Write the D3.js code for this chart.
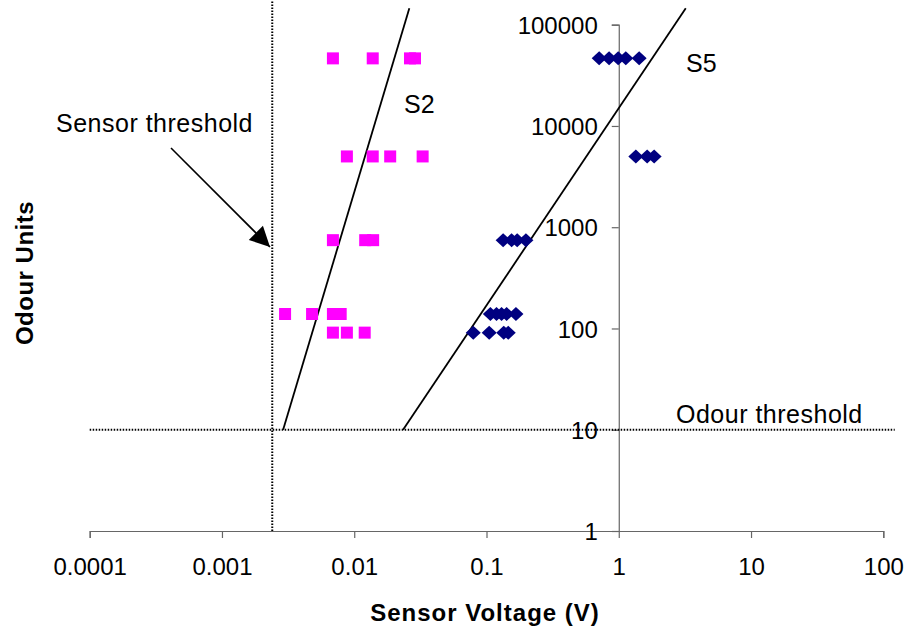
<!DOCTYPE html>
<html>
<head>
<meta charset="utf-8">
<style>
  body { margin: 0; background: #fff; }
  text { font-family: Arial, "Liberation Sans", sans-serif; fill: #000; }
</style>
<script src="https://d3js.org/d3.v7.min.js"></script>
</head>
<body>
<svg id="chart" width="909" height="629"></svg>
<script>
// sensor S2 (pink squares)
var s2Voltage = [0.0069, 0.0138, 0.0264, 0.0288,
                 0.0088, 0.0138, 0.0187, 0.0329,
                 0.0069, 0.0121, 0.0139,
                 0.0030, 0.0048, 0.0069, 0.0079,
                 0.0069, 0.0088, 0.0120];
var s2Odour = [46500, 46500, 46500, 46500,
               5000, 5000, 5000, 5000,
               745, 745, 745,
               139, 139, 139, 139,
               91, 91, 91];

// sensor S5 (navy diamonds)
var s5Voltage = [0.711, 0.845, 0.99, 1.13, 1.426,
                 1.346, 1.639, 1.851,
                 0.1336, 0.1548, 0.1706, 0.1986,
                 0.107, 0.119, 0.130, 0.142, 0.167,
                 0.0794, 0.1048, 0.135, 0.146];
var s5Odour = [46500, 46500, 46500, 46500, 46500,
               5000, 5000, 5000,
               745, 745, 745, 745,
               139, 139, 139, 139, 139,
               91, 91, 91, 91];

// fitted lines (start / end)
var s2FitVoltage = [0.0029, 0.0261];
var s2FitOdour = [10, 145500];
var s5FitVoltage = [0.0234, 3.21];
var s5FitOdour = [10, 145500];

// thresholds
var sensorThreshold = 0.0024;
var odourThreshold = 10;

var xTicks = [0.0001, 0.001, 0.01, 0.1, 1, 10, 100];
var xTickLabels = ["0.0001", "0.001", "0.01", "0.1", "1", "10", "100"];
var yTicks = [1, 10, 100, 1000, 10000, 100000];
var yTickLabels = ["1", "10", "100", "1000", "10000", "100000"];

var svg = d3.select("#chart");

var x = d3.scaleLog().domain([0.0001, 100]).range([89.7, 883.3]);
var y = d3.scaleLog().domain([1, 100000]).range([531, 24.7]);

// axes
var xAxis = svg.append("g")
  .attr("transform", "translate(0," + y(1) + ")")
  .call(d3.axisBottom(x).tickValues(xTicks)
    .tickFormat(function(d, i) { return xTickLabels[i]; })
    .tickSize(7).tickPadding(20));

var yAxis = svg.append("g")
  .attr("transform", "translate(" + x(1) + ",0)")
  .call(d3.axisLeft(y).tickValues(yTicks)
    .tickFormat(function(d, i) { return yTickLabels[i]; })
    .tickSize(7).tickPadding(14));

svg.selectAll(".domain, .tick line").attr("stroke", "#666").attr("stroke-width", 1.2);
svg.selectAll(".tick text").attr("font-size", 24).attr("font-family", "Arial, 'Liberation Sans', sans-serif").attr("fill", "#000");
yAxis.selectAll(".tick text").attr("dy", "0.36em");

// threshold dotted lines
svg.append("line")
  .attr("x1", x(sensorThreshold)).attr("x2", x(sensorThreshold))
  .attr("y1", y(1)).attr("y2", y(174000))
  .attr("stroke", "#000").attr("stroke-width", 2).attr("stroke-dasharray", "1.5,1.5");

svg.append("line")
  .attr("x1", x(0.0001)).attr("x2", x(122))
  .attr("y1", y(odourThreshold)).attr("y2", y(odourThreshold))
  .attr("stroke", "#000").attr("stroke-width", 2).attr("stroke-dasharray", "1.5,1.5");

// fitted lines
function fitLine(vs, os) {
  svg.append("line")
    .attr("x1", x(vs[0])).attr("y1", y(os[0]))
    .attr("x2", x(vs[1])).attr("y2", y(os[1]))
    .attr("stroke", "#000").attr("stroke-width", 1.8);
}
fitLine(s2FitVoltage, s2FitOdour);
fitLine(s5FitVoltage, s5FitOdour);

// S2 squares
svg.append("g").selectAll("rect")
  .data(s2Voltage)
  .enter().append("rect")
    .attr("x", function(d) { return x(d) - 6; })
    .attr("y", function(d, i) { return y(s2Odour[i]) - 6; })
    .attr("width", 12).attr("height", 12)
    .attr("fill", "#ff00ff");

// S5 diamonds
svg.append("g").selectAll("path")
  .data(s5Voltage)
  .enter().append("path")
    .attr("transform", function(d, i) { return "translate(" + x(d) + "," + y(s5Odour[i]) + ")"; })
    .attr("d", "M0,-7L7.5,0L0,7L-7.5,0Z")
    .attr("fill", "#000080");

// annotations
svg.append("text").attr("x", 404).attr("y", 113).attr("font-size", 25).text("S2");
svg.append("text").attr("x", 686).attr("y", 72).attr("font-size", 25).text("S5");
svg.append("text").attr("x", 56).attr("y", 132).attr("font-size", 25).attr("letter-spacing", 0.5).text("Sensor threshold");
svg.append("text").attr("x", 676).attr("y", 423).attr("font-size", 25).attr("letter-spacing", 0.5).text("Odour threshold");

// arrow to sensor threshold
svg.append("defs").append("marker")
  .attr("id", "arrow")
  .attr("viewBox", "0 0 10 10")
  .attr("refX", 10).attr("refY", 5)
  .attr("markerUnits", "userSpaceOnUse")
  .attr("markerWidth", 24).attr("markerHeight", 20)
  .attr("orient", "auto")
  .append("path").attr("d", "M0,0L10,5L0,10Z").attr("fill", "#000");

svg.append("line")
  .attr("x1", 171).attr("y1", 148)
  .attr("x2", 270).attr("y2", 247)
  .attr("stroke", "#000").attr("stroke-width", 1.6)
  .attr("marker-end", "url(#arrow)");

// axis titles
svg.append("text")
  .attr("x", 485).attr("y", 621)
  .attr("text-anchor", "middle")
  .attr("font-size", 24).attr("font-weight", "bold").attr("letter-spacing", 1)
  .text("Sensor Voltage (V)");

svg.append("text")
  .attr("transform", "translate(33,273) rotate(-90)")
  .attr("text-anchor", "middle")
  .attr("font-size", 24).attr("font-weight", "bold").attr("letter-spacing", 0.5)
  .text("Odour Units");
</script>
</body>
</html>
